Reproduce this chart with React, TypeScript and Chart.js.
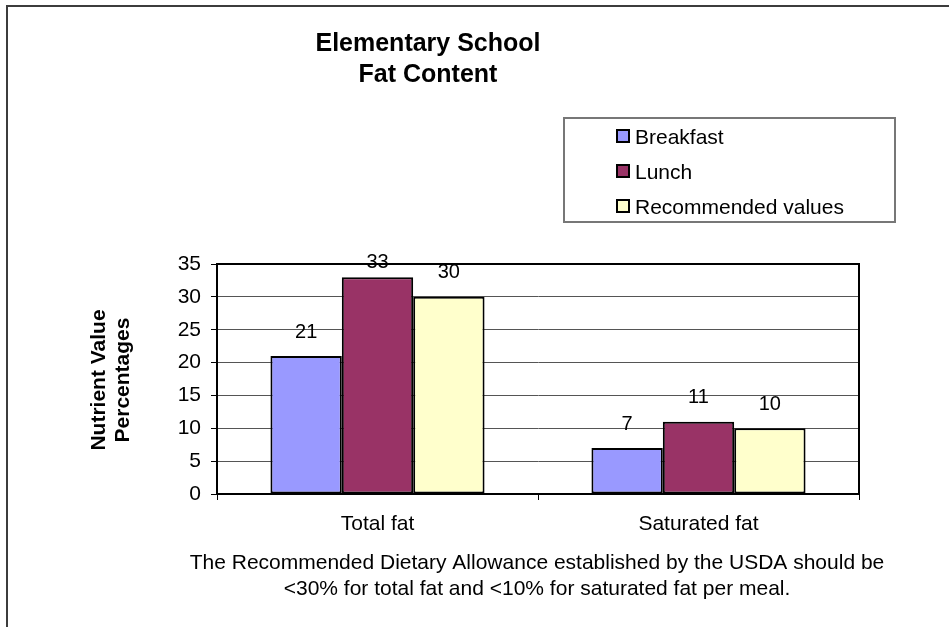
import React, { useEffect, useRef } from "react";
import { Chart, registerables } from "chart.js";

Chart.register(...registerables);

const categories = ["Total fat", "Saturated fat"];
const seriesNames = ["Breakfast", "Lunch", "Recommended values"];
const breakfast = [21, 7];
const lunch = [33, 11];
const recommended = [30, 10];
const seriesColors = ["#9999FF", "#993366", "#FFFFCC"];
const yMin = 0;
const yMax = 35;
const yStep = 5;
const titleLines = ["Elementary School", "Fat Content"];
const yTitleLines = ["Nutrient Value", "Percentages"];
const noteLines = [
  "The Recommended Dietary Allowance established by the USDA should be",
  "<30% for total fat and <10% for saturated fat per meal.",
];

const FONT = "'Liberation Sans', Arial, sans-serif";

const decor = {
  id: "decor",
  beforeDraw(chart: any) {
    const ctx = chart.ctx;
    ctx.save();
    ctx.fillStyle = "#ffffff";
    ctx.fillRect(0, 0, chart.width, chart.height);
    ctx.strokeStyle = "#3c3c3c";
    ctx.lineWidth = 2;
    ctx.strokeRect(7, 6, chart.width + 40, chart.height + 40);
    ctx.restore();
  },
  afterDatasetsDraw(chart: any) {
    const ctx = chart.ctx;
    const a = chart.chartArea;
    ctx.save();
    // plot border
    ctx.strokeStyle = "#000";
    ctx.lineWidth = 2;
    ctx.strokeRect(a.left, a.top, a.right - a.left, a.bottom - a.top);
    // data labels
    ctx.fillStyle = "#000";
    ctx.font = `20px ${FONT}`;
    ctx.textAlign = "center";
    ctx.textBaseline = "middle";
    chart.data.datasets.forEach((ds: any, di: number) => {
      const meta = chart.getDatasetMeta(di);
      meta.data.forEach((el: any, i: number) => {
        const y = Math.max(el.y - 24, a.top - 2);
        ctx.fillText(String(ds.data[i]), el.x, y);
      });
    });
    ctx.restore();
  },
  afterDraw(chart: any) {
    const ctx = chart.ctx;
    ctx.save();
    ctx.fillStyle = "#000";
    // title
    ctx.font = `bold 25px ${FONT}`;
    ctx.textAlign = "center";
    ctx.textBaseline = "alphabetic";
    ctx.fillText(titleLines[0], 428, 51);
    ctx.fillText(titleLines[1], 428, 82);

    // y axis title
    ctx.save();
    ctx.translate(0, 380);
    ctx.rotate(-Math.PI / 2);
    ctx.font = `bold 21px ${FONT}`;
    ctx.textAlign = "center";
    ctx.fillText(yTitleLines[0], 0, 105);
    ctx.fillText(yTitleLines[1], 0, 129);
    ctx.restore();

    // legend box
    ctx.strokeStyle = "#777";
    ctx.lineWidth = 2;
    ctx.strokeRect(564, 118, 331, 104);
    ctx.font = `21px ${FONT}`;
    ctx.textAlign = "left";
    ctx.textBaseline = "alphabetic";
    chart.data.datasets.forEach((ds: any, i: number) => {
      const cy = 136 + i * 35;
      ctx.fillStyle = ds.backgroundColor;
      ctx.fillRect(617, cy - 6, 12, 12);
      ctx.strokeStyle = "#000";
      ctx.lineWidth = 2;
      ctx.strokeRect(617, cy - 6, 12, 12);
      ctx.fillStyle = "#000";
      ctx.fillText(ds.label, 635, cy + 7.5);
    });

    // footnote
    ctx.font = `21px ${FONT}`;
    ctx.textAlign = "center";
    ctx.fillText(noteLines[0], 537, 569);
    ctx.fillText(noteLines[1], 537, 595);
    ctx.restore();
  },
};

export default function App() {
  const ref = useRef<HTMLCanvasElement | null>(null);
  useEffect(() => {
    if (!ref.current) return;
    const values = [breakfast, lunch, recommended];
    const chart = new Chart(ref.current, {
      type: "bar",
      data: {
        labels: categories,
        datasets: seriesNames.map((name, i) => ({
          label: name,
          data: values[i],
          backgroundColor: seriesColors[i],
          borderColor: "#000",
          borderWidth: 2,
          borderSkipped: false,
          barPercentage: 1,
          categoryPercentage: 0.667,
        })),
      },
      options: {
        responsive: false,
        animation: false,
        devicePixelRatio: 1,
        layout: { padding: { top: 264, right: 90, bottom: 0, left: 0 } },
        plugins: {
          legend: { display: false },
          title: { display: false },
          tooltip: { enabled: false },
        },
        scales: {
          x: {
            afterFit(scale: any) {
              scale.height = 133;
            },
            grid: {
              drawOnChartArea: false,
              drawTicks: true,
              tickLength: 6,
              tickColor: "#000",
              lineWidth: 1,
            },
            border: { display: true, color: "#000", width: 2 },
            ticks: {
              color: "#000",
              font: { family: FONT, size: 21 },
              padding: 12,
              maxRotation: 0,
            },
          },
          y: {
            min: yMin,
            max: yMax,
            afterFit(scale: any) {
              scale.width = 217;
            },
            grid: {
              color: "#555",
              lineWidth: 1,
              drawTicks: true,
              tickLength: 6,
              tickColor: "#000",
            },
            border: { display: true, color: "#000", width: 2 },
            ticks: {
              stepSize: yStep,
              color: "#000",
              font: { family: FONT, size: 21 },
              padding: 10,
            },
          },
        },
      },
      plugins: [decor],
    } as any);
    return () => chart.destroy();
  }, []);
  return (
    <div style={{ position: "fixed", left: 0, top: 0, width: 949, height: 627, background: "#fff" }}>
      <canvas ref={ref} width={949} height={627} style={{ width: 949, height: 627, display: "block" }} />
    </div>
  );
}
